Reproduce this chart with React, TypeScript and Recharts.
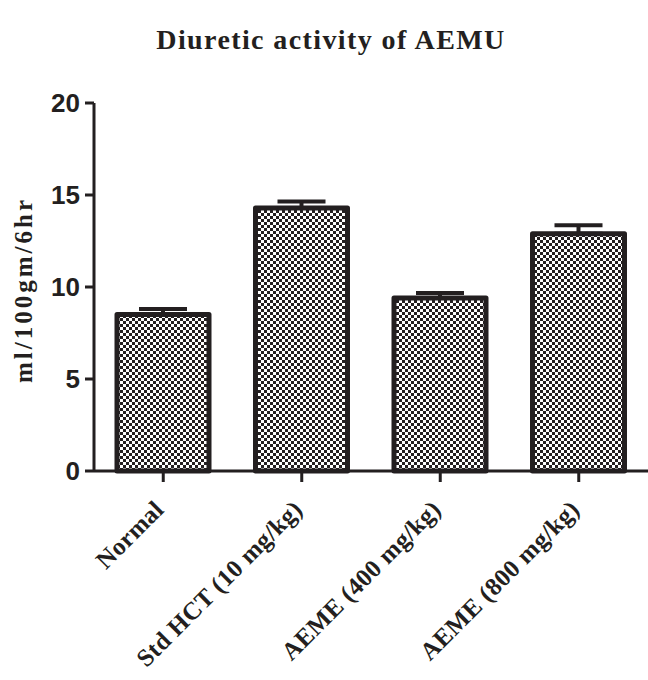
import React from "react";
import { BarChart, Bar, XAxis, YAxis, ErrorBar } from "recharts";

const categories = [
  "Normal",
  "Std HCT (10 mg/kg)",
  "AEME (400 mg/kg)",
  "AEME (800 mg/kg)",
];
const means = [8.5, 14.3, 9.4, 12.9];
const sems = [0.3, 0.35, 0.28, 0.45];
const yTicks = [0, 5, 10, 15, 20];

const INK = "#231f20";
const SERIF = "'Liberation Serif', 'Times New Roman', serif";
const SANS = "'Liberation Sans', Arial, sans-serif";

const data = categories.map((name, i) => ({
  name,
  mean: means[i],
  err: [0, sems[i]],
}));

const XTick = (props: any) => {
  const { x, y, payload } = props;
  return (
    <g transform={`translate(${x + 2},${y + 27})`}>
      <text
        textAnchor="end"
        transform="rotate(-45)"
        fontFamily={SERIF}
        fontWeight="bold"
        fontSize={25}
        letterSpacing={0.3}
        fill={INK}
      >
        {payload.value}
      </text>
    </g>
  );
};

const YLabel = () => (
  <text
    x={32}
    y={290}
    transform="rotate(-90, 32, 290)"
    textAnchor="middle"
    fontFamily={SERIF}
    fontWeight="bold"
    fontSize={25}
    letterSpacing={3}
    fill={INK}
  >
    ml/100gm/6hr
  </text>
);

export default function App() {
  return (
    <div
      style={{
        position: "fixed",
        left: 0,
        top: 0,
        width: 648,
        height: 680,
        background: "#fff",
      }}
    >
      <svg width={0} height={0} style={{ position: "absolute" }}>
        <defs>
          <pattern
            id="checker"
            width={6}
            height={6}
            patternUnits="userSpaceOnUse"
          >
            <rect width={6} height={6} fill="#fff" />
            <rect x={0} y={0} width={3} height={3} fill={INK} />
            <rect x={3} y={3} width={3} height={3} fill={INK} />
          </pattern>
        </defs>
      </svg>
      <div
        style={{
          position: "absolute",
          top: 24,
          left: 0,
          width: 662,
          textAlign: "center",
          fontFamily: SERIF,
          fontWeight: "bold",
          fontSize: 28,
          letterSpacing: 1.4,
          color: INK,
        }}
      >
        Diuretic activity of AEMU
      </div>
      <BarChart
        width={648}
        height={680}
        data={data}
        margin={{ top: 103, right: 0, bottom: 9, left: 0 }}
      >
        <XAxis
          dataKey="name"
          height={200}
          axisLine={{ stroke: INK, strokeWidth: 3 }}
          tickLine={{ stroke: INK, strokeWidth: 3 }}
          tickSize={11}
          tick={<XTick />}
          interval={0}
        />
        <YAxis
          width={94}
          domain={[0, 20]}
          ticks={yTicks}
          axisLine={{ stroke: INK, strokeWidth: 3 }}
          tickLine={{ stroke: INK, strokeWidth: 3 }}
          tickSize={9}
          tickMargin={5}
          tick={{
            fill: INK,
            fontFamily: SANS,
            fontWeight: "bold",
            fontSize: 26,
          }}
          label={<YLabel />}
        />
        <Bar
          dataKey="mean"
          barSize={92}
          fill="url(#checker)"
          stroke={INK}
          strokeWidth={5}
          strokeLinejoin="round"
          isAnimationActive={false}
        >
          <ErrorBar
            dataKey="err"
            direction="y"
            width={24}
            stroke={INK}
            strokeWidth={4}
            isAnimationActive={false}
          />
        </Bar>
      </BarChart>
    </div>
  );
}
